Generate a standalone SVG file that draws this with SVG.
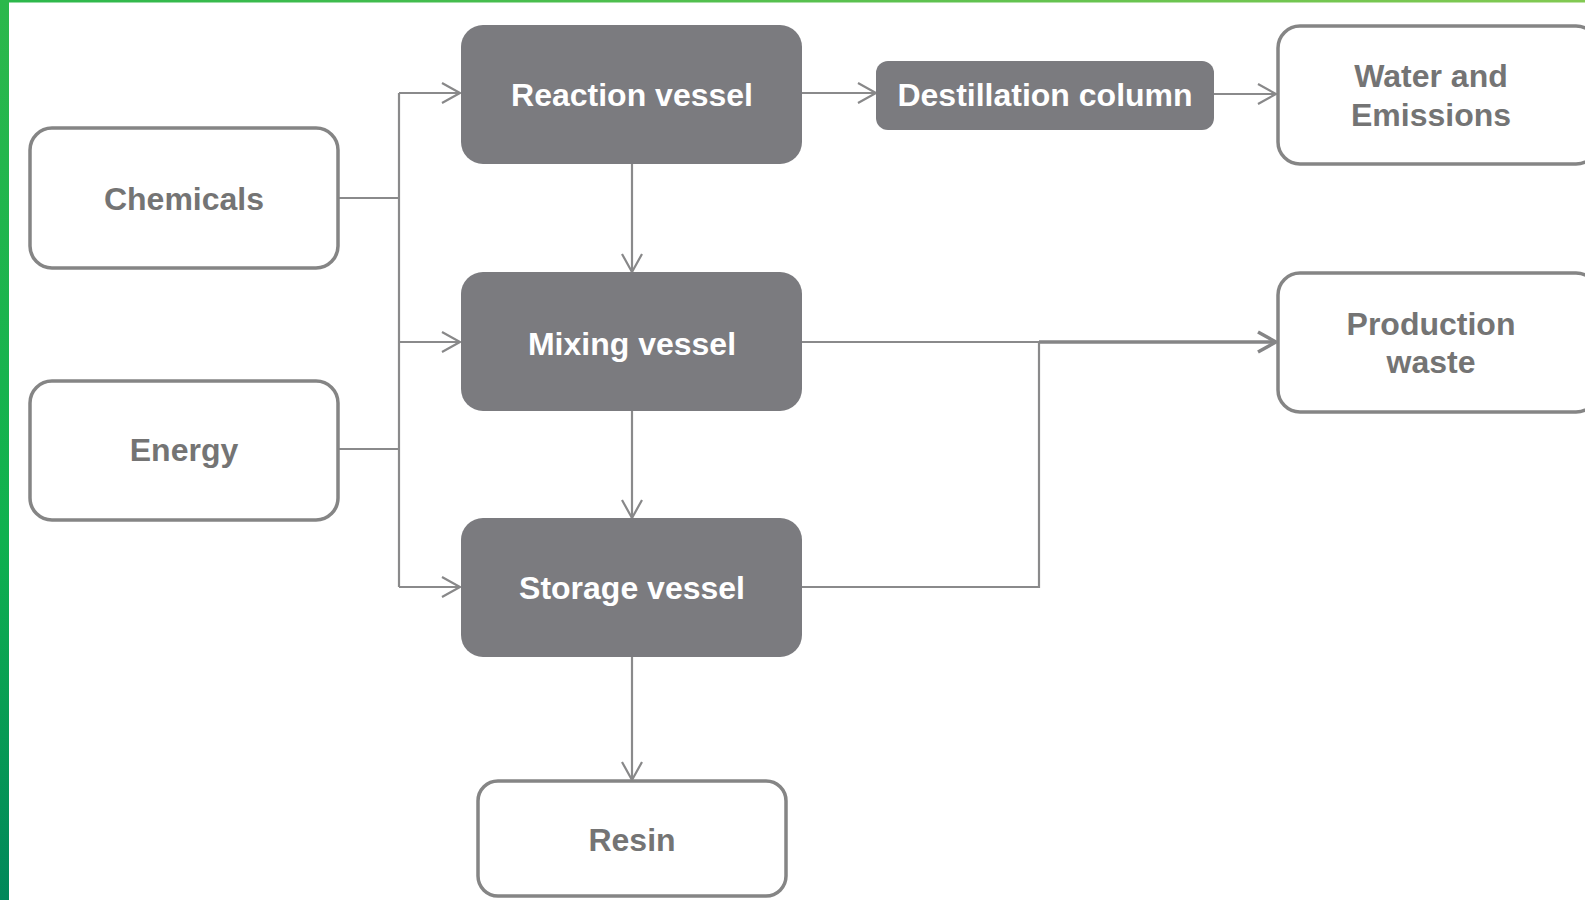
<svg xmlns="http://www.w3.org/2000/svg" width="1585" height="900" viewBox="0 0 1585 900">
<defs>
<linearGradient id="gl" x1="0" y1="0" x2="0" y2="1">
<stop offset="0" stop-color="#2cb84c"/>
<stop offset="0.6" stop-color="#0fb14f"/>
<stop offset="1" stop-color="#00875a"/>
</linearGradient>
<linearGradient id="gt" x1="0" y1="0" x2="1" y2="0">
<stop offset="0" stop-color="#2cb84c"/>
<stop offset="1" stop-color="#82c952"/>
</linearGradient>
<marker id="ah" markerWidth="22" markerHeight="24" refX="19" refY="12" orient="auto" markerUnits="userSpaceOnUse">
<path d="M1,2 L19,12 L1,22" fill="none" stroke="#888889" stroke-width="2.2"/>
</marker>
<marker id="ahb" markerWidth="22" markerHeight="24" refX="19" refY="12" orient="auto" markerUnits="userSpaceOnUse">
<path d="M1,2 L19,12 L1,22" fill="none" stroke="#858586" stroke-width="3.5"/>
</marker>
</defs>
<style>
.dark rect{fill:#7b7b7f;}
.dark text{fill:#ffffff;font-family:"Liberation Sans",Arial,sans-serif;font-weight:bold;font-size:32px;text-anchor:middle;}
.light rect{fill:#ffffff;stroke:#858585;stroke-width:3.5;}
.light text{fill:#747474;font-family:"Liberation Sans",Arial,sans-serif;font-weight:bold;font-size:32px;text-anchor:middle;}
.conn path{fill:none;stroke:#8a8a8b;stroke-width:2.2;}
</style>
<rect x="0" y="0" width="1585" height="900" fill="#ffffff"/>
<rect x="0" y="0" width="1585" height="2.5" fill="url(#gt)"/>
<rect x="0" y="0" width="9" height="900" fill="url(#gl)"/>

<g id="connectors" class="conn">
<path d="M339,198 H399"/>
<path d="M339,449 H399"/>
<path d="M399,93 V587"/>
<path d="M399,93 H460" marker-end="url(#ah)"/>
<path d="M399,342 H460" marker-end="url(#ah)"/>
<path d="M399,587 H460" marker-end="url(#ah)"/>
<path d="M802,93 H876" marker-end="url(#ah)"/>
<path d="M1214,94 H1276" marker-end="url(#ah)"/>
<path d="M632,164 V272" marker-end="url(#ah)"/>
<path d="M632,411 V518" marker-end="url(#ah)"/>
<path d="M632,657 V780" marker-end="url(#ah)"/>
<path d="M802,342 H1039"/>
<path d="M802,587 H1039 V342"/>
<path d="M1039,342 H1276" style="stroke-width:3.5;stroke:#858586" marker-end="url(#ahb)"/>
</g>

<g id="chemicals" class="light">
<rect x="30" y="128" width="308" height="140" rx="22"/>
<text x="184" y="210">Chemicals</text>
</g>
<g id="energy" class="light">
<rect x="30" y="381" width="308" height="139" rx="22"/>
<text x="184" y="461">Energy</text>
</g>
<g id="reaction" class="dark">
<rect x="461" y="25" width="341" height="139" rx="22"/>
<text x="632" y="106">Reaction vessel</text>
</g>
<g id="mixing" class="dark">
<rect x="461" y="272" width="341" height="139" rx="22"/>
<text x="632" y="355">Mixing vessel</text>
</g>
<g id="storage" class="dark">
<rect x="461" y="518" width="341" height="139" rx="22"/>
<text x="632" y="599">Storage vessel</text>
</g>
<g id="destillation" class="dark">
<rect x="876" y="61" width="338" height="69" rx="12"/>
<text x="1045" y="106">Destillation column</text>
</g>
<g id="water" class="light">
<rect x="1278" y="26" width="320" height="138" rx="22"/>
<text x="1431" y="87">Water and</text>
<text x="1431" y="126">Emissions</text>
</g>
<g id="waste" class="light">
<rect x="1278" y="273" width="320" height="139" rx="22"/>
<text x="1431" y="335">Production</text>
<text x="1431" y="373">waste</text>
</g>
<g id="resin" class="light">
<rect x="478" y="781" width="308" height="115" rx="20"/>
<text x="632" y="851">Resin</text>
</g>
</svg>
